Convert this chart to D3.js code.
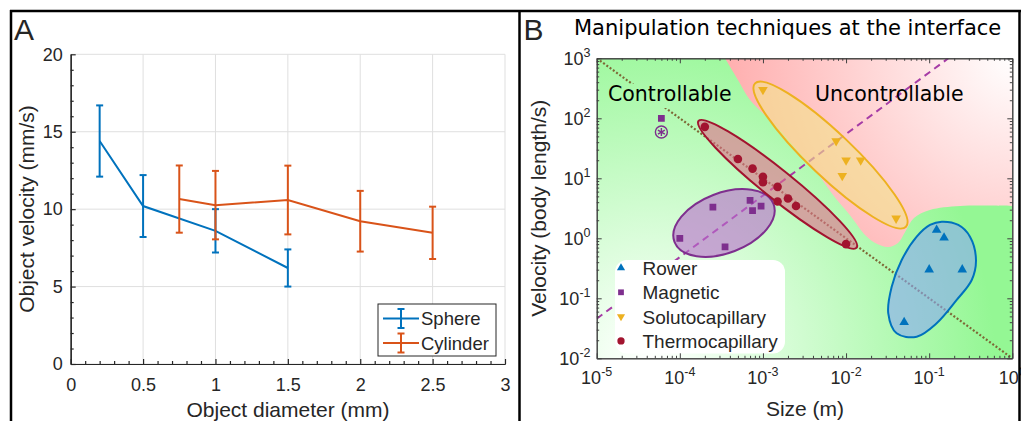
<!DOCTYPE html>
<html><head><meta charset="utf-8">
<script src="https://cdn.jsdelivr.net/npm/d3@7"></script>
<style>
body{margin:0;background:#fff}
svg{display:block}
text{font-family:"Liberation Sans",Arial,Helvetica,sans-serif;fill:#262626}
.dv{font-family:"DejaVu Sans",Verdana,sans-serif;fill:#000}
</style>
</head><body>
<svg id="c" width="1021" height="421"></svg>
<script>
// ---------- Panel A data ----------
const sphereDiameter = [0.2, 0.5, 1.0, 1.5];
const sphereVelocity = [14.4, 10.2, 8.6, 6.2];
const sphereError = [2.3, 2.0, 1.4, 1.2];
const cylinderDiameter = [0.75, 1.0, 1.5, 2.0, 2.5];
const cylinderVelocity = [10.65, 10.26, 10.59, 9.22, 8.47];
const cylinderError = [2.17, 2.21, 2.22, 1.96, 1.69];
const panelAXTicks = [0, 0.5, 1, 1.5, 2, 2.5, 3];
const panelAYTicks = [0, 5, 10, 15, 20];
const panelASeries = ["Sphere", "Cylinder"];

// ---------- Panel B data ----------
const rowerSize = [0.123, 0.151, 0.1, 0.25, 0.05];
const rowerVelocity = [1.37, 1.02, 0.30, 0.30, 0.040];
const magneticSize = [1e-4, 2.5e-4, 3.5e-4, 7e-4, 7.5e-4, 9.5e-4];
const magneticVelocity = [1.0, 3.3, 0.72, 4.3, 2.9, 3.45];
const magneticOutlier = [6e-5, 100];
const magneticOutlierMark = [6e-5, 59];
const solutoSize = [1e-3, 7.6e-3, 1e-2, 1.5e-2, 9e-3, 4e-2];
const solutoVelocity = [300, 42, 20, 20, 11, 2.15];
const thermoSize = [2e-4, 5e-4, 7.5e-4, 1e-3, 1e-3, 1.5e-3, 1.5e-3, 2e-3, 2.5e-3, 1e-2];
const thermoVelocity = [72, 21, 14.5, 10.6, 8.6, 7.2, 4.1, 4.6, 3.45, 0.8];
const techniques = ["Rower", "Magnetic", "Solutocapillary", "Thermocapillary"];
const panelBXTickExp = [-5, -4, -3, -2, -1, 0];
const panelBYTickExp = [-2, -1, 0, 1, 2, 3];
const scalingLine = [[1e-5, 1e3], [1, 1e-2]];
const magneticTrend = [[1e-5, 0.0457], [0.17, 1000]];
const uncontrollableBoundary = [
  [3.50e-4, 1000], [5.01e-4, 434], [7.0e-4, 202], [1.40e-3, 77.3], [2.57e-3, 29.6],
  [4.23e-3, 13.7], [6.97e-3, 5.27], [1.11e-2, 2.44], [1.74e-2, 1.09], [2.37e-2, 0.80],
  [3.21e-2, 0.716], [4.22e-2, 0.836], [5.13e-2, 1.27], [6.56e-2, 2.18], [0.102, 2.96],
  [0.235, 3.45], [1, 3.45]];
const uncontrollableCorners = [[1, 1000]];
const magneticEllipse = {center: [3.40e-4, 1.80], major: [1.34e-3, 3.73], minor: [4.58e-4, 0.614]};
const thermoEllipse = {center: [1.50e-3, 7.94], major: [1.34e-2, 0.697], minor: [1.164e-3, 5.15]};
const solutoEllipse = {center: [6.50e-3, 24.4], major: [5.26e-2, 1.56], minor: [4.28e-3, 13.2]};
const rowerOutline = [
  [0.1416, 1.892], [0.2239, 1.667], [0.3097, 1.064], [0.3656, 0.4345], [0.3251, 0.2018],
  [0.2143, 0.0938], [0.1230, 0.0383], [0.0708, 0.0229], [0.0406, 0.0261], [0.0322, 0.0562],
  [0.0354, 0.156], [0.0467, 0.4345], [0.0708, 1.064], [0.1023, 1.667]];

const BLUE = "#0072BD", ORANGE = "#D95319", PURPLE = "#7E2F8E", YELLOW = "#EDB120", RED = "#A2142F";
const AX = "#262626";

const svg = d3.select("#c");
const defs = svg.append("defs");

function frame() {
  const g = svg.append("g").attr("stroke", "#000").attr("stroke-width", 2.5).attr("fill", "none");
  g.append("line").attr("x1", 10).attr("x2", 1021).attr("y1", 11).attr("y2", 11);
  g.append("line").attr("x1", 11).attr("x2", 11).attr("y1", 10).attr("y2", 421);
  g.append("line").attr("x1", 519.5).attr("x2", 519.5).attr("y1", 10).attr("y2", 421);
  g.append("line").attr("x1", 1019.5).attr("x2", 1019.5).attr("y1", 10).attr("y2", 421);
}

// ================= PANEL A =================
const xA = d3.scaleLinear([0, 3], [70.7, 505]);
const yA = d3.scaleLinear([0, 20], [364, 54.3]);
const gA = svg.append("g");

gA.append("g").selectAll("line").data(panelAXTicks).join("line")
  .attr("x1", d => xA(d)).attr("x2", d => xA(d)).attr("y1", yA(0)).attr("y2", yA(20))
  .attr("stroke", "#dfdfdf").attr("stroke-width", 1);
gA.append("g").selectAll("line").data(panelAYTicks).join("line")
  .attr("y1", d => yA(d)).attr("y2", d => yA(d)).attr("x1", xA(0)).attr("x2", xA(3))
  .attr("stroke", "#dfdfdf").attr("stroke-width", 1);

function styleAxis(g, fs) {
  g.selectAll(".domain").attr("stroke", AX).attr("stroke-width", 1.2);
  g.selectAll(".tick line").attr("stroke", AX).attr("stroke-width", 1.2);
  g.selectAll("text").attr("fill", AX).style("font-size", fs + "px");
}

const aXMinor = d3.range(0, 31).map(i => i / 10).filter(v => Math.abs(v * 2 - Math.round(v * 2)) > 1e-6);
const aYMinor = d3.range(0, 21).filter(v => v % 5 !== 0);
gA.append("g").attr("transform", `translate(0,${yA(0)})`)
  .call(d3.axisBottom(xA).tickValues(aXMinor).tickSize(-3).tickSizeOuter(0).tickFormat(""))
  .call(g => styleAxis(g, 18));
gA.append("g").attr("transform", `translate(${xA(0)},0)`)
  .call(d3.axisLeft(yA).tickValues(aYMinor).tickSize(-3).tickSizeOuter(0).tickFormat(""))
  .call(g => styleAxis(g, 18));
gA.append("g").attr("transform", `translate(0,${yA(0)})`)
  .call(d3.axisBottom(xA).tickValues(panelAXTicks).tickSize(-5).tickSizeOuter(0).tickPadding(14).tickFormat(d3.format("~g")))
  .call(g => styleAxis(g, 18));
gA.append("g").attr("transform", `translate(${xA(0)},0)`)
  .call(d3.axisLeft(yA).tickValues(panelAYTicks).tickSize(-5).tickSizeOuter(0).tickPadding(8).tickFormat(d3.format("~g")))
  .call(g => styleAxis(g, 18));

function errSeries(xs, ys, es, color) {
  const pts = xs.map((x, i) => ({x, y: ys[i], e: es[i]}));
  const line = d3.line().x(d => xA(d.x)).y(d => yA(d.y));
  const g = gA.append("g").attr("stroke", color).attr("stroke-width", 2).attr("fill", "none");
  g.append("path").attr("d", line(pts));
  const eb = g.selectAll("g.eb").data(pts).join("g");
  eb.append("line").attr("x1", d => xA(d.x)).attr("x2", d => xA(d.x))
    .attr("y1", d => yA(d.y - d.e)).attr("y2", d => yA(d.y + d.e));
  eb.append("line").attr("x1", d => xA(d.x) - 3.5).attr("x2", d => xA(d.x) + 3.5)
    .attr("y1", d => yA(d.y - d.e)).attr("y2", d => yA(d.y - d.e));
  eb.append("line").attr("x1", d => xA(d.x) - 3.5).attr("x2", d => xA(d.x) + 3.5)
    .attr("y1", d => yA(d.y + d.e)).attr("y2", d => yA(d.y + d.e));
}
errSeries(sphereDiameter, sphereVelocity, sphereError, BLUE);
errSeries(cylinderDiameter, cylinderVelocity, cylinderError, ORANGE);

const legA = gA.append("g");
legA.append("rect").attr("x", 378).attr("y", 304).attr("width", 118).attr("height", 52)
  .attr("fill", "#fff").attr("stroke", AX).attr("stroke-width", 1);
[[BLUE, 318.5], [ORANGE, 343]].forEach(([c, yy], i) => {
  const g = legA.append("g").attr("stroke", c).attr("stroke-width", 2);
  g.append("line").attr("x1", 383).attr("x2", 419).attr("y1", yy).attr("y2", yy);
  g.append("line").attr("x1", 401).attr("x2", 401).attr("y1", yy - 9.5).attr("y2", yy + 9.5);
  g.append("line").attr("x1", 397.5).attr("x2", 404.5).attr("y1", yy - 9.5).attr("y2", yy - 9.5);
  g.append("line").attr("x1", 397.5).attr("x2", 404.5).attr("y1", yy + 9.5).attr("y2", yy + 9.5);
  legA.append("text").attr("x", 421).attr("y", yy + 6.5).style("font-size", "18.5px").attr("fill", "#000")
    .text(panelASeries[i]);
});

gA.append("text").attr("x", 288).attr("y", 417).attr("text-anchor", "middle")
  .style("font-size", "21px").text("Object diameter (mm)");
gA.append("text").attr("transform", "translate(34,209) rotate(-90)").attr("text-anchor", "middle")
  .style("font-size", "21px").text("Object velocity (mm/s)");
svg.append("text").attr("x", 14).attr("y", 39.5).style("font-size", "30px").attr("fill", "#000").text("A");

// ================= PANEL B =================
const xB = d3.scaleLog([1e-5, 1], [596.7, 1012.3]);
const yB = d3.scaleLog([1e-2, 1e3], [358.3, 58.3]);
const gB = svg.append("g");

defs.append("clipPath").attr("id", "clipB").append("rect")
  .attr("x", xB(1e-5)).attr("y", yB(1e3)).attr("width", xB(1) - xB(1e-5)).attr("height", yB(1e-2) - yB(1e3));

const gg = defs.append("radialGradient").attr("id", "gGreen").attr("gradientUnits", "userSpaceOnUse")
  .attr("cx", 650).attr("cy", 360).attr("r", 345);
gg.append("stop").attr("offset", 0).attr("stop-color", "#ffffff");
gg.append("stop").attr("offset", 0.12).attr("stop-color", "#f4fff4");
gg.append("stop").attr("offset", 1).attr("stop-color", "#94f794");
const gr = defs.append("radialGradient").attr("id", "gRed").attr("gradientUnits", "userSpaceOnUse")
  .attr("cx", 1015).attr("cy", 56).attr("r", 285);
gr.append("stop").attr("offset", 0).attr("stop-color", "#ffffff");
gr.append("stop").attr("offset", 1).attr("stop-color", "#ffb0b0");

const plot = gB.append("g").attr("clip-path", "url(#clipB)");
plot.append("rect").attr("x", xB(1e-5)).attr("y", yB(1e3))
  .attr("width", xB(1) - xB(1e-5)).attr("height", yB(1e-2) - yB(1e3)).attr("fill", "url(#gGreen)");

const bLine = d3.line().x(d => xB(d[0])).y(d => yB(d[1]));
const regionPath = d3.line().x(d => xB(d[0])).y(d => yB(d[1])).curve(d3.curveCatmullRom)(uncontrollableBoundary)
  + uncontrollableCorners.map(d => `L${xB(d[0])},${yB(d[1])}`).join("") + "Z";
plot.append("path").attr("d", regionPath).attr("fill", "url(#gRed)");

plot.append("path").attr("d", bLine(scalingLine)).attr("stroke", "#7d6836").attr("stroke-width", 2.2)
  .attr("stroke-dasharray", "2,2").attr("fill", "none");
plot.append("path").attr("d", bLine(magneticTrend)).attr("stroke", "#a63ca6").attr("stroke-width", 2)
  .attr("stroke-dasharray", "7,5").attr("fill", "none");

const ctl = plot.append("g");
const ctlText = ctl.append("text").attr("class", "dv").attr("x", 608).attr("y", 101)
  .style("font-size", "20.5px").text("Controllable");
const bb = ctlText.node().getBBox();
ctl.insert("rect", "text").attr("x", bb.x - 3).attr("y", bb.y + 2).attr("width", bb.width + 4).attr("height", bb.height)
  .attr("fill", "url(#gGreen)");
plot.append("text").attr("class", "dv").attr("x", 815).attr("y", 101)
  .style("font-size", "20.5px").text("Uncontrollable");

function drawEllipse(e, fill, stroke) {
  const c = [xB(e.center[0]), yB(e.center[1])];
  const m = [xB(e.major[0]), yB(e.major[1])];
  const n = [xB(e.minor[0]), yB(e.minor[1])];
  const a = Math.hypot(m[0] - c[0], m[1] - c[1]);
  const b = Math.hypot(n[0] - c[0], n[1] - c[1]);
  const ang = Math.atan2(m[1] - c[1], m[0] - c[0]) * 180 / Math.PI;
  plot.append("ellipse").attr("cx", c[0]).attr("cy", c[1]).attr("rx", a).attr("ry", b)
    .attr("transform", `rotate(${ang},${c[0]},${c[1]})`)
    .attr("fill", fill).attr("fill-opacity", 0.6).attr("stroke", stroke).attr("stroke-width", 2);
}
drawEllipse(magneticEllipse, "#b76ccb", PURPLE);
drawEllipse(thermoEllipse, "#e06e8c", RED);
drawEllipse(solutoEllipse, "#f3e28a", YELLOW);
plot.append("path").attr("d", d3.line().x(d => xB(d[0])).y(d => yB(d[1])).curve(d3.curveCatmullRomClosed.alpha(0.5))(rowerOutline))
  .attr("fill", "#89a6f5").attr("fill-opacity", 0.6).attr("stroke", BLUE).attr("stroke-width", 2);

const symTri = d3.symbol().type(d3.symbolTriangle).size(40);
const symSq = d3.symbol().type(d3.symbolSquare).size(46);
const symCirc = d3.symbol().type(d3.symbolCircle).size(58);
function markers(xs, ys, sym, color, rot) {
  plot.append("g").selectAll("path").data(xs.map((x, i) => [x, ys[i]])).join("path")
    .attr("d", sym).attr("fill", color)
    .attr("transform", d => `translate(${xB(d[0])},${yB(d[1])}) rotate(${rot})`);
}
markers(rowerSize, rowerVelocity, symTri, BLUE, 0);
markers(magneticSize, magneticVelocity, symSq, PURPLE, 0);
markers([magneticOutlier[0]], [magneticOutlier[1]], symSq, PURPLE, 0);
markers(solutoSize, solutoVelocity, symTri, YELLOW, 180);
markers(thermoSize, thermoVelocity, symCirc, RED, 0);
{
  const cx = xB(magneticOutlierMark[0]), cy = yB(magneticOutlierMark[1]);
  const g = plot.append("g").attr("stroke", PURPLE).attr("stroke-width", 1.4).attr("fill", "none");
  g.append("circle").attr("cx", cx).attr("cy", cy).attr("r", 6);
  [90, 30, 150].forEach(a => {
    const r = 4, t = a * Math.PI / 180;
    g.append("line").attr("x1", cx - r * Math.cos(t)).attr("y1", cy - r * Math.sin(t))
      .attr("x2", cx + r * Math.cos(t)).attr("y2", cy + r * Math.sin(t));
  });
}

const legB = gB.append("g");
legB.append("rect").attr("x", 615).attr("y", 260).attr("width", 170).attr("height", 93.5)
  .attr("rx", 12).attr("fill", "#fff");
const legSyms = [[symTri, BLUE, 0], [symSq, PURPLE, 0], [symTri, YELLOW, 180], [symCirc, RED, 0]];
techniques.forEach((t, i) => {
  const yy = 268 + i * 24.3;
  legB.append("path").attr("d", legSyms[i][0]).attr("fill", legSyms[i][1])
    .attr("transform", `translate(621,${yy}) rotate(${legSyms[i][2]}) scale(0.85)`);
  legB.append("text").attr("x", 642.5).attr("y", yy + 7).style("font-size", "19px").attr("fill", "#000").text(t);
});

const decX = panelBXTickExp.map(e => Math.pow(10, e));
const decY = panelBYTickExp.map(e => Math.pow(10, e));
const minX = [], minY = [];
panelBXTickExp.slice(0, -1).forEach(e => { for (let k = 2; k < 10; k++) minX.push(k * Math.pow(10, e)); });
panelBYTickExp.slice(0, -1).forEach(e => { for (let k = 2; k < 10; k++) minY.push(k * Math.pow(10, e)); });
const axB = gB.append("g");
function addAx(axisFn, scale, vals, size, tr) {
  axB.append("g").attr("transform", tr)
    .call(axisFn(scale).tickValues(vals).tickSize(-size).tickSizeOuter(0).tickFormat(""))
    .call(g => { g.selectAll(".domain").attr("stroke", "#404040").attr("stroke-width", 1);
                 g.selectAll(".tick line").attr("stroke", "#404040").attr("stroke-width", 1); });
}
[[minX, 2.5], [decX, 5]].forEach(([v, s]) => {
  addAx(d3.axisBottom, xB, v, s, `translate(0,${yB(1e-2)})`);
  addAx(d3.axisTop, xB, v, s, `translate(0,${yB(1e3)})`);
});
[[minY, 2.5], [decY, 5]].forEach(([v, s]) => {
  addAx(d3.axisLeft, yB, v, s, `translate(${xB(1e-5)},0)`);
  addAx(d3.axisRight, yB, v, s, `translate(${xB(1)},0)`);
});
panelBXTickExp.forEach(e => {
  const t = axB.append("text").attr("x", xB(Math.pow(10, e))).attr("y", 383.5)
    .attr("text-anchor", "middle").style("font-size", "18px");
  t.append("tspan").text("10");
  t.append("tspan").attr("dy", -7.5).style("font-size", "12.5px").text(String(e));
});
panelBYTickExp.forEach(e => {
  const t = axB.append("text").attr("x", 590.5).attr("y", yB(Math.pow(10, e)) + 6.5)
    .attr("text-anchor", "end").style("font-size", "18px");
  t.append("tspan").text("10");
  t.append("tspan").attr("dy", -7.5).style("font-size", "12.5px").text(String(e));
});
gB.append("text").attr("x", 805).attr("y", 416).attr("text-anchor", "middle")
  .style("font-size", "21px").text("Size (m)");
gB.append("text").attr("transform", "translate(546,208.3) rotate(-90)").attr("text-anchor", "middle")
  .style("font-size", "21px").text("Velocity (body length/s)");
svg.append("text").attr("class", "dv").attr("x", 574).attr("y", 35)
  .style("font-size", "21px").text("Manipulation techniques at the interface");
svg.append("text").attr("x", 523.5).attr("y", 39.5).style("font-size", "30px").attr("fill", "#000").text("B");

frame();
</script>
</body></html>
